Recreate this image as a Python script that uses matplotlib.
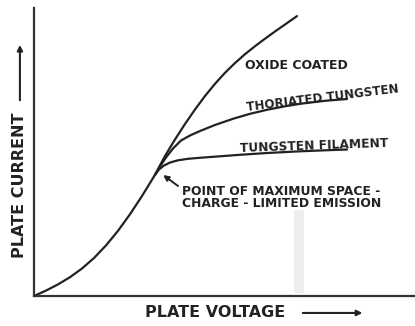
import matplotlib
matplotlib.use('Agg')
import matplotlib.pyplot as plt
from matplotlib.patches import FancyArrowPatch

# traced curve points (plate voltage vs plate current, arbitrary units 0-100)
common_v = [0.0, 3.15, 6.30, 9.45, 12.60, 15.75, 18.90, 22.05, 25.20, 28.35, 31.76]
common_i = [0.0, 1.88, 4.03, 6.53, 9.55, 13.19, 17.57, 22.64, 28.40, 34.72, 42.08]

oxide_v = [31.76, 34.38, 37.01, 39.63, 42.26, 44.88, 47.51, 50.13,
           52.76, 55.38, 58.01, 60.63, 63.25, 65.88, 69.03]
oxide_i = [42.08, 48.61, 54.34, 59.72, 64.76, 69.44, 73.68, 77.50,
           80.90, 83.96, 86.74, 89.34, 91.84, 94.27, 97.19]

thor_v = [31.76, 33.07, 34.65, 36.48, 38.58, 40.94, 43.57, 47.51,
          52.23, 56.69, 61.15, 65.88, 69.82, 76.38, 82.15]
thor_i = [42.08, 44.97, 48.09, 51.22, 53.99, 55.73, 57.29, 59.38,
          61.53, 63.26, 64.65, 65.87, 66.74, 67.78, 68.40]

tung_v = [31.76, 32.81, 34.12, 35.70, 37.80, 40.42, 43.57, 48.82,
          54.07, 61.15, 69.82, 76.38, 82.15]
tung_i = [42.08, 43.92, 45.31, 46.35, 47.12, 47.64, 47.99, 48.51,
          49.03, 49.65, 50.24, 50.59, 50.87]

ink = '#222222'
lw = 1.6

fig = plt.figure(figsize=(4.15, 3.26), dpi=100)
ax = fig.add_axes([34 / 415, 30 / 326, 381 / 415, 288 / 326])
ax.set_xlim(0, 100)
ax.set_ylim(0, 100)

# scan artefact
ax.axvspan(68.2, 70.9, ymin=0.01, ymax=0.30, color='#eeeeee', lw=0)

for v, i in [(common_v, common_i), (oxide_v, oxide_i),
             (thor_v, thor_i), (tung_v, tung_i)]:
    ax.plot(v, i, color=ink, lw=lw, solid_capstyle='round',
            solid_joinstyle='round', clip_on=False)

txt = dict(color=ink, fontweight='bold', family='DejaVu Sans')
ax.text(55.4, 80.2, 'OXIDE COATED', fontsize=9.0, ha='left', va='center', **txt)
ax.text(75.8, 68.6, 'THORIATED TUNGSTEN', fontsize=8.6, ha='center',
        va='center', rotation=7, rotation_mode='anchor', **txt)
ax.text(73.6, 52.2, 'TUNGSTEN FILAMENT', fontsize=8.8, ha='center',
        va='center', rotation=2, rotation_mode='anchor', **txt)
ax.text(38.8, 34.2, 'POINT OF MAXIMUM SPACE -\nCHARGE - LIMITED EMISSION',
        fontsize=8.9, ha='left', va='center', linespacing=0.95, **txt)
ax.annotate('', xy=(33.9, 42.0), xytext=(37.8, 38.2),
            arrowprops=dict(arrowstyle='-|>', color=ink, lw=1.4,
                            mutation_scale=8, shrinkA=0, shrinkB=0))

for side in ['top', 'right']:
    ax.spines[side].set_visible(False)
for side in ['left', 'bottom']:
    ax.spines[side].set_color('#333333')
    ax.spines[side].set_linewidth(1.6)
ax.set_xticks([])
ax.set_yticks([])

fig.text(0.518, 0.040, 'PLATE VOLTAGE', fontsize=11.5, ha='center',
         va='center', **txt)
fig.text(0.046, 0.4325, 'PLATE CURRENT', fontsize=11.5, ha='center',
         va='center', rotation=90, **txt)
fig.add_artist(FancyArrowPatch(
    (0.723, 0.040), (0.880, 0.040), transform=fig.transFigure,
    arrowstyle='-|>', mutation_scale=8, color=ink, lw=1.5))
fig.add_artist(FancyArrowPatch(
    (0.048, 0.684), (0.048, 0.871), transform=fig.transFigure,
    arrowstyle='-|>', mutation_scale=8, color=ink, lw=1.5))

fig.savefig('out.png', dpi=100, facecolor='white')
